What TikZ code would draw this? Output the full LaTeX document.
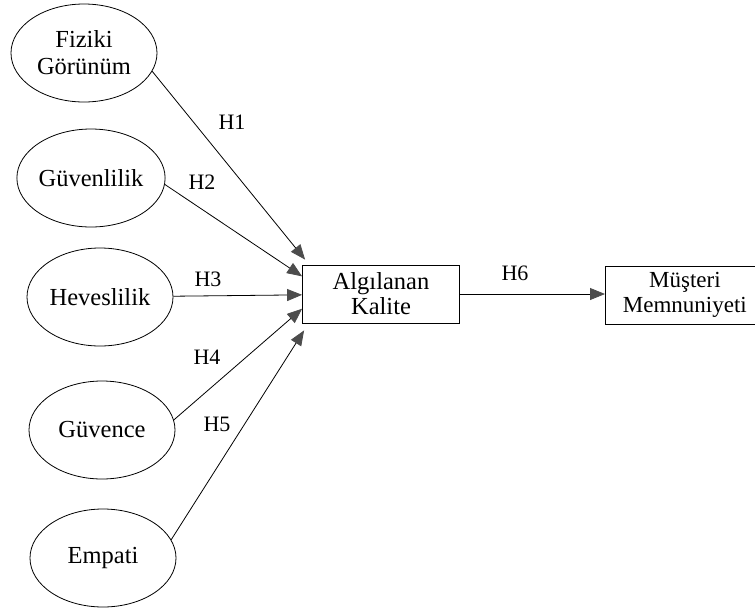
\documentclass[tikz,border=0pt]{standalone}
\usepackage{fontspec}
\setmainfont{Liberation Serif}
\usetikzlibrary{shapes.geometric}
\usetikzlibrary{arrows.meta}
\usetikzlibrary{calc}

\begin{document}
\begin{tikzpicture}[x=1pt, y=-1pt,
  oval/.style={draw, ellipse, line width=0.8pt, minimum width=146, minimum height=98, inner sep=0pt, align=center, font=\fontsize{24.5}{27}\selectfont},
  box/.style={draw, rectangle, line width=0.8pt, minimum height=58, inner sep=0pt, align=center, font=\fontsize{24.5}{25}\selectfont},
  hyp/.style={font=\fontsize{22}{24}\selectfont},
  link/.style={line width=0.8pt, -{Triangle[length=15pt, width=12pt, color=black!70]}}]
\useasboundingbox (0, 0) rectangle (755, 611);
\clip (0, 0) rectangle (755, 611);
\node[oval] (fiz) at (84, 53) {Fiziki\\Görünüm};
\node[oval] (gvl) at (91, 178) {Güvenlilik};
\node[oval] (hev) at (100, 297) {Heveslilik};
\node[oval] (gvc) at (102, 430) {Güvence};
\node[oval] (emp) at (103, 558) {Empati};
\node[box, minimum width=157] (alg) at (381, 294) {Algılanan\\Kalite};
\node[box, minimum width=159, anchor=west, font=\fontsize{23}{25}\selectfont] (mus) at (605, 295) {Müşteri\\Memnuniyeti};
\draw[line width=0.8pt] (mus.north east) -- ++(40, 0) (mus.south east) -- ++(40, 0);
\coordinate (t1) at ([shift={(3, -5)}]alg.north west);
\coordinate (t2) at ($(alg.west)!0.6!(alg.north west)$);
\coordinate (t4) at ($(alg.west)!0.5!(alg.south west)$);
\coordinate (t5) at ([shift={(2, 7)}]alg.south west);
\draw[link] (fiz.-15) -- (t1);
\draw[link] (gvl.-5) -- (t2);
\draw[link] (hev) -- (alg);
\draw[link] (gvc.8) -- (t4);
\draw[link] (emp.15) -- (t5);
\draw[link] (alg.east) -- (alg.east -| mus.west);
\node[hyp] (h1) at (232, 122) {H1};
\node[hyp] (h2) at (202, 182) {H2};
\node[hyp] (h3) at (208, 279) {H3};
\node[hyp] (h4) at (207, 357) {H4};
\node[hyp] (h5) at (217, 424) {H5};
\node[hyp] (h6) at (515, 273) {H6};
\end{tikzpicture}
\end{document}
